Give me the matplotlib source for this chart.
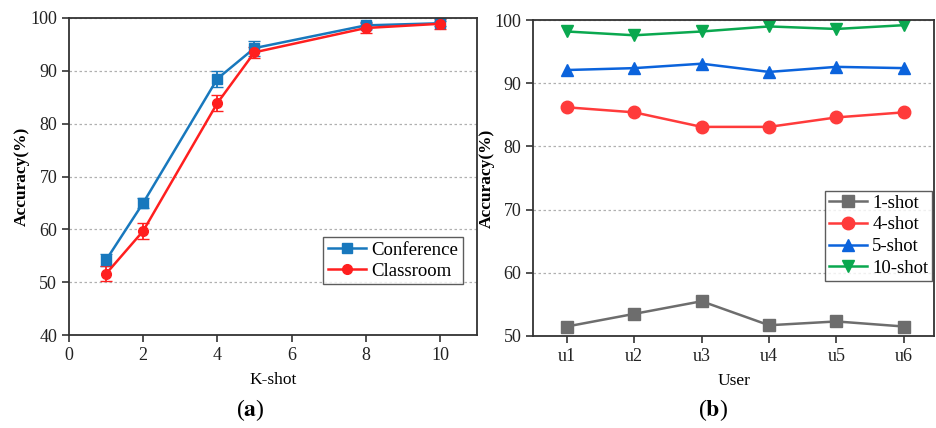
import matplotlib
matplotlib.use("Agg")
import matplotlib.pyplot as plt
from matplotlib.lines import Line2D

plt.rcParams['font.family'] = ['Liberation Serif', 'DejaVu Serif']
plt.rcParams['mathtext.fontset'] = 'stix'

# Panel (a)
kshot = [1, 2, 4, 5, 8, 10]
conference = [54.2, 65.0, 88.5, 94.3, 98.6, 99.0]
conference_err = [1.2, 1.0, 1.5, 1.4, 0.6, 0.5]
classroom = [51.6, 59.7, 83.9, 93.5, 98.1, 98.9]
classroom_err = [1.4, 1.6, 1.5, 1.1, 0.9, 0.9]

# Panel (b)
users = ["u1", "u2", "u3", "u4", "u5", "u6"]
shot1 = [51.5, 53.5, 55.5, 51.7, 52.3, 51.5]
shot4 = [86.2, 85.4, 83.1, 83.1, 84.6, 85.4]
shot5 = [92.1, 92.4, 93.1, 91.8, 92.6, 92.4]
shot10 = [98.2, 97.6, 98.2, 99.0, 98.6, 99.2]

fig = plt.figure(figsize=(9.37, 4.28), dpi=100)
axA = fig.add_axes([0.0736, 0.217, 0.4355, 0.741])
axB = fig.add_axes([0.569, 0.215, 0.428, 0.738])

spine_c = '#333333'
for ax in (axA, axB):
    for s in ax.spines.values():
        s.set_color(spine_c)
        s.set_linewidth(1.3)
    ax.tick_params(direction='out', length=5, width=1.2, color=spine_c,
                   labelsize=13, labelcolor='#222222')
    ax.yaxis.grid(True, linestyle=(0, (2, 2)), color='#b0b0b0', linewidth=0.9)
    ax.set_axisbelow(True)

c_conf = '#1878bd'
c_class = '#ff1f1f'
axA.errorbar(kshot, conference, yerr=conference_err, color=c_conf, marker='s',
             markersize=7, linewidth=1.8, capsize=4.5, elinewidth=1.3)
axA.errorbar(kshot, classroom, yerr=classroom_err, color=c_class, marker='o',
             markersize=7, linewidth=1.8, capsize=4.5, elinewidth=1.3)
axA.set_xlim(0, 11)
axA.set_ylim(40, 100)
axA.set_xticks([0, 2, 4, 6, 8, 10])
axA.set_yticks([40, 50, 60, 70, 80, 90, 100])
axA.set_xlabel('K-shot', fontsize=12.5, labelpad=6)
axA.set_ylabel('Accuracy(%)', fontsize=12.5, fontweight='bold')
axA.yaxis.set_label_coords(-0.096, 0.5)
handlesA = [Line2D([], [], color=c_conf, marker='s', markersize=7, linewidth=1.8),
            Line2D([], [], color=c_class, marker='o', markersize=7, linewidth=1.8)]
leg = axA.legend(handlesA, ['Conference', 'Classroom'], loc='lower right',
                 bbox_to_anchor=(0.965, 0.16), fontsize=13.5,
                 frameon=True, fancybox=False, edgecolor='#333333',
                 handlelength=2.0, handletextpad=0.3, borderpad=0.25, labelspacing=0.2,
                 borderaxespad=0)
leg.get_frame().set_linewidth(1.0)

xb = list(range(1, len(users) + 1))
axB.plot(xb, shot1, color='#6d6d6d', marker='s', markersize=8, linewidth=1.8, label='1-shot')
axB.plot(xb, shot4, color='#ff3b3b', marker='o', markersize=9, linewidth=1.8, label='4-shot')
axB.plot(xb, shot5, color='#0b63dc', marker='^', markersize=9, linewidth=1.8, label='5-shot')
axB.plot(xb, shot10, color='#0aa84f', marker='v', markersize=9, linewidth=1.8, label='10-shot')
axB.set_xlim(0.5, 6.45)
axB.set_ylim(50, 100)
axB.set_xticks(xb)
axB.set_xticklabels(users)
axB.set_yticks([50, 60, 70, 80, 90, 100])
axB.set_xlabel('User', fontsize=12.5, labelpad=6)
axB.set_ylabel('Accuracy(%)', fontsize=12.5, fontweight='bold')
axB.yaxis.set_label_coords(-0.095, 0.5)
legB = axB.legend(loc='lower right', bbox_to_anchor=(0.995, 0.175), fontsize=13.5,
                  frameon=True, fancybox=False, edgecolor='#333333',
                  handlelength=2.0, handletextpad=0.3, borderpad=0.2, labelspacing=0.25,
                  borderaxespad=0)
legB.get_frame().set_linewidth(1.0)

fig.text(250 / 937, 1 - 410 / 428, '(' + r'$\mathbf{a}$' + ')', fontsize=17,
         ha='center', va='center')
fig.text(713 / 937, 1 - 410 / 428, '(' + r'$\mathbf{b}$' + ')', fontsize=17,
         ha='center', va='center')

fig.savefig('out.png', dpi=100)
